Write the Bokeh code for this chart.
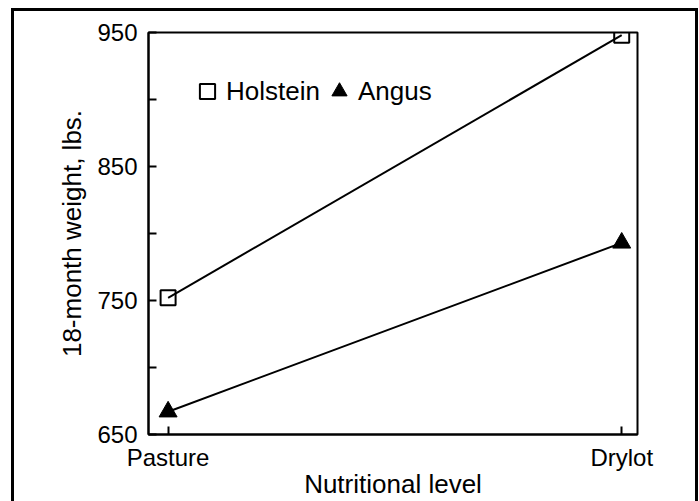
from bokeh.plotting import figure
from bokeh.models import Range1d, FixedTicker, Legend, LegendItem
from bokeh.embed import file_html
from bokeh.resources import INLINE

# ---- data ----
categories = ["Pasture", "Drylot"]
cat_pos = [0, 1]
holstein = [752, 948]
angus = [667, 793]
y_ticks = [650, 700, 750, 800, 850, 900, 950]
y_labeled = [650, 750, 850, 950]

FONT = "Liberation Sans"

p = figure(width=699, height=501, output_backend="svg", toolbar_location=None,
           x_range=Range1d(-0.0432, 1.0348), y_range=Range1d(650, 950),
           min_border_left=148, min_border_right=62, min_border_top=32, min_border_bottom=66)

p.background_fill_color = "white"
p.border_fill_color = "white"
p.xgrid.visible = False
p.ygrid.visible = False
p.outline_line_color = "black"
p.outline_line_width = 2
p.outline_line_alpha = 1

l1 = p.line(cat_pos, holstein, line_color="black", line_width=2)
l2 = p.line(cat_pos, angus, line_color="black", line_width=2)
s1 = p.scatter(cat_pos, holstein, marker="square", size=15, fill_alpha=0,
               line_color="black", line_width=2)
s2 = p.scatter(cat_pos, angus, marker="triangle", size=18, fill_color="black",
               line_color="black", line_width=1)

# axes
for ax in (p.xaxis[0], p.yaxis[0]):
    ax.axis_line_width = 2
    ax.axis_line_color = "black"
    ax.major_tick_line_width = 2
    ax.major_tick_line_color = "black"
    ax.major_tick_in = 8
    ax.major_tick_out = 0
    ax.minor_tick_line_color = None
    ax.major_label_text_font = FONT
    ax.major_label_text_font_size = "24px"
    ax.major_label_text_color = "black"
    ax.axis_label_text_font = FONT
    ax.axis_label_text_font_size = "26px"
    ax.axis_label_text_font_style = "normal"
    ax.axis_label_text_color = "black"

p.xaxis.ticker = FixedTicker(ticks=cat_pos)
p.xaxis.major_label_overrides = {i: c for i, c in zip(cat_pos, categories)}
p.xaxis.axis_label = "Nutritional level"
p.xaxis.major_label_standoff = 9
p.xaxis.axis_label_standoff = -5

p.yaxis.ticker = FixedTicker(ticks=y_ticks)
p.yaxis.major_label_overrides = {t: (str(t) if t in y_labeled else "") for t in y_ticks}
p.yaxis.axis_label = "18-month weight, lbs."
p.yaxis.major_label_standoff = 11
p.yaxis.axis_label_standoff = 7

legend = Legend(items=[LegendItem(label="Holstein", renderers=[s1]),
                       LegendItem(label="Angus", renderers=[s2])],
                location="top_left", orientation="horizontal",
                glyph_width=38, glyph_height=38, label_standoff=-6, spacing=-4,
                padding=0, margin=40, border_line_alpha=0, background_fill_alpha=0,
                label_text_font=FONT, label_text_font_size="26px",
                label_text_color="black")
p.add_layout(legend)

# outer border box around the whole figure
p.stylesheets = [":host::after { content: ''; position: absolute; left: 11px; top: 8px; "
                 "width: 687px; height: 520px; border: 3px solid black; box-sizing: border-box; "
                 "pointer-events: none; z-index: 10; }"]

open("out.html", "w").write(file_html(p, INLINE))
